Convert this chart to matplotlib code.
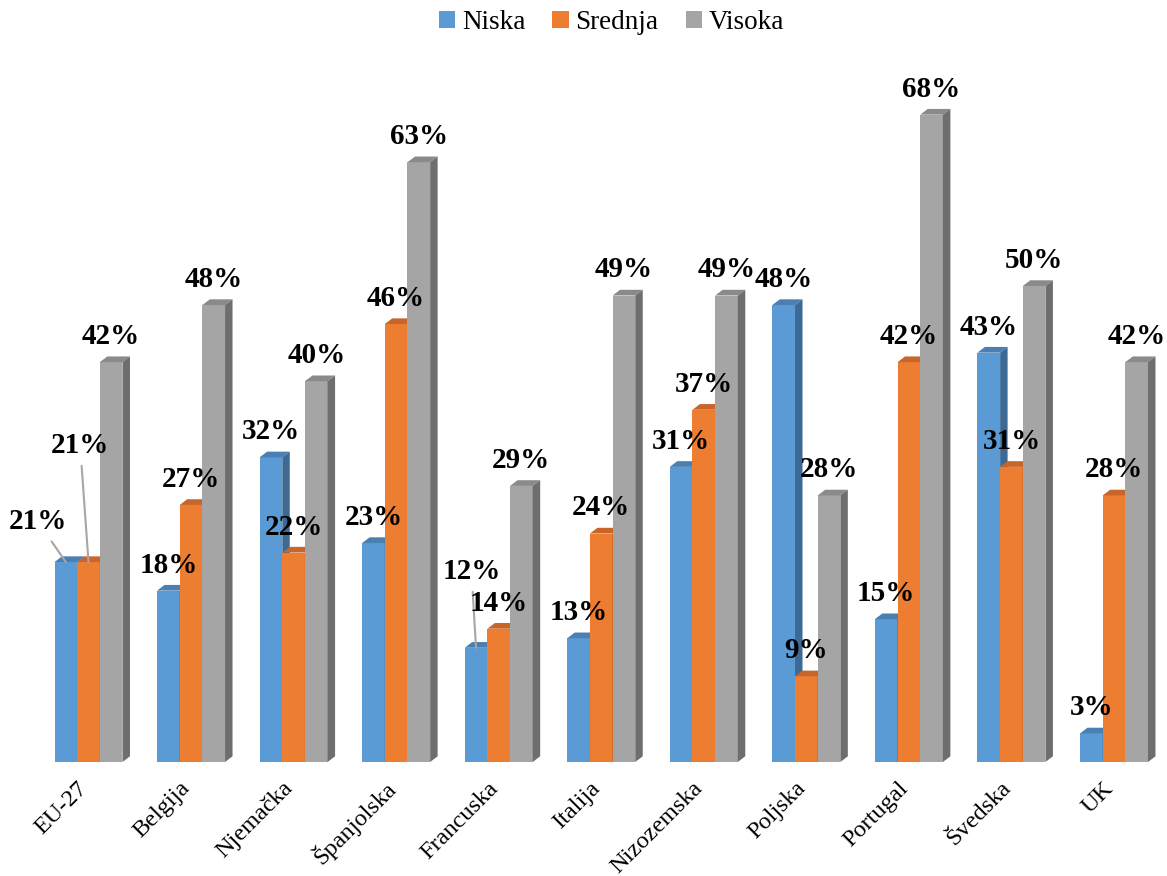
import matplotlib.pyplot as plt
from matplotlib.patches import Polygon, Patch
from matplotlib.transforms import ScaledTranslation

plt.rcParams['font.family'] = ['Liberation Serif', 'DejaVu Serif']

countries = ['EU-27', 'Belgija', 'Njemačka', 'Španjolska', 'Francuska', 'Italija',
             'Nizozemska', 'Poljska', 'Portugal', 'Švedska', 'UK']
niska = [21, 18, 32, 23, 12, 13, 31, 48, 15, 43, 3]
srednja = [21, 27, 22, 46, 14, 24, 37, 9, 42, 31, 28]
visoka = [42, 48, 40, 63, 29, 49, 49, 28, 68, 50, 42]
series_names = ['Niska', 'Srednja', 'Visoka']

# front / top / side colours for the fake 3D look
colors = [('#5B9BD5', '#4A7FB2', '#3D6A94'),
          ('#ED7D31', '#C8652A', '#B05A22'),
          ('#A5A5A5', '#8A8A8A', '#6E6E6E')]

# labels that sit away from their bar, with a leader line (offset in points)
leader_labels = {(0, 0): (-20, 29), (0, 1): (-6, 84), (4, 0): (-3.3, 55)}

fig = plt.figure(figsize=(11.67, 8.76), dpi=100)
ax = fig.add_axes([0, 114 / 876, 1, 702 / 876])
ax.set_xlim(-88.5 / 102.55, (1167 - 88.5) / 102.55)
ax.set_ylim(0, 702 / 9.52)
ax.axis('off')

width = 0.221
dx, dy = 0.073, 0.6

for j, vals in enumerate([niska, srednja, visoka]):
    face, top, side = colors[j]
    off = (j - 1) * width
    for i, v in enumerate(vals):
        z = 2 + i * 4 + j
        x0 = i + off - width / 2
        ax.bar(i + off, v, width, color=face, linewidth=0, zorder=z)
        ax.add_patch(Polygon([(x0, v), (x0 + dx, v + dy), (x0 + width + dx, v + dy), (x0 + width, v)],
                             closed=True, facecolor=top, edgecolor='none', zorder=z))
        ax.add_patch(Polygon([(x0 + width, 0), (x0 + width + dx, dy), (x0 + width + dx, v + dy), (x0 + width, v)],
                             closed=True, facecolor=side, edgecolor='none', zorder=z))

        label = f'{v}%'
        if (i, j) in leader_labels:
            ox, oy = leader_labels[(i, j)]
            ax.annotate(label, xy=(i + off, v), xytext=(ox, oy), textcoords='offset points',
                        ha='center', va='center', fontsize=21, fontweight='bold', zorder=100,
                        arrowprops=dict(arrowstyle='-', color='#A6A6A6', lw=1.5,
                                        shrinkA=3, shrinkB=0))
        else:
            ax.annotate(label, xy=(i + off, v), xytext=(0, 13), textcoords='offset points',
                        ha='center', va='baseline', fontsize=21, fontweight='bold', zorder=100)

# rotated category labels
shift = ScaledTranslation(-4 / 100, -23 / 100, fig.dpi_scale_trans)
for i, name in enumerate(countries):
    ax.text(i, 0, name, transform=ax.transData + shift, rotation=45, rotation_mode='anchor',
            ha='right', va='center', fontsize=17.5, clip_on=False)

handles = [Patch(facecolor=c[0]) for c in colors]
fig.legend(handles, series_names, loc='center', bbox_to_anchor=(0.524, 0.974), ncol=3,
           frameon=False, fontsize=19.5, handlelength=0.6, handleheight=0.6,
           handletextpad=0.25, columnspacing=1.0)

fig.savefig('out.png', dpi=100)
